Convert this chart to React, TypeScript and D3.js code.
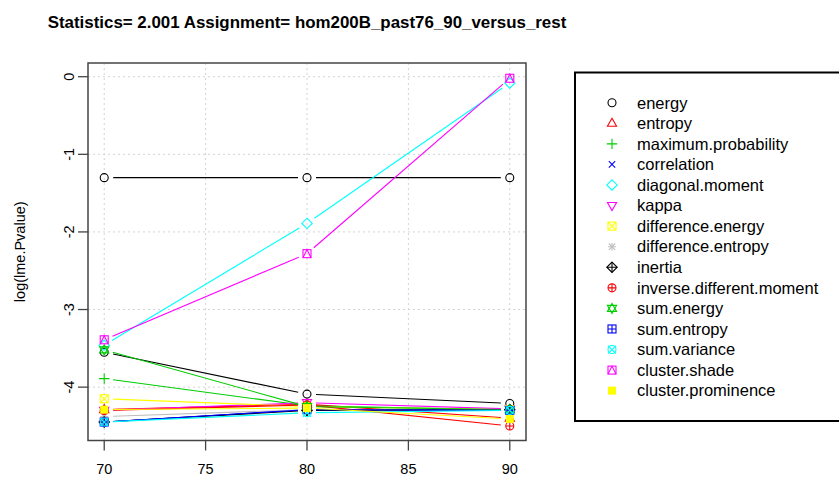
import React from "react";
import * as d3 from "d3";

const xValues = [70, 80, 90];
const xTicks = [70, 75, 80, 85, 90];
const yTicks = [0, -1, -2, -3, -4];

const seriesNames = [
  "energy",
  "entropy",
  "maximum.probability",
  "correlation",
  "diagonal.moment",
  "kappa",
  "difference.energy",
  "difference.entropy",
  "inertia",
  "inverse.different.moment",
  "sum.energy",
  "sum.entropy",
  "sum.variance",
  "cluster.shade",
  "cluster.prominence",
];

const energy = [-3.55, -4.09, -4.21];
const entropy = [-4.29, -4.22, -4.4];
const maximumProbability = [-3.89, -4.24, -4.29];
const correlation = [-4.45, -4.29, -4.29];
const diagonalMoment = [-3.46, -1.89, -0.08];
const kappa = [-4.3, -4.2, -4.28];
const differenceEnergy = [-4.15, -4.25, -4.29];
const differenceEntropy = [-4.38, -4.29, -4.3];
const inertia = [-4.45, -4.3, -4.29];
const inverseDifferentMoment = [-4.3, -4.23, -4.5];
const sumEnergy = [-3.52, -4.25, -4.29];
const sumEntropy = [-4.45, -4.29, -4.3];
const sumVariance = [-4.45, -4.33, -4.3];
const clusterShade = [-3.39, -2.28, -0.02];
const clusterProminence = [-4.29, -4.27, -4.41];
const threshold = [-1.301, -1.301, -1.301];

const seriesValues = [
  energy,
  entropy,
  maximumProbability,
  correlation,
  diagonalMoment,
  kappa,
  differenceEnergy,
  differenceEntropy,
  inertia,
  inverseDifferentMoment,
  sumEnergy,
  sumEntropy,
  sumVariance,
  clusterShade,
  clusterProminence,
];

const palette = ["#000000", "#FF0000", "#00CD00", "#0000FF", "#00FFFF", "#FF00FF", "#FFFF00", "#BEBEBE"];

const W = 839;
const H = 477;
const left = 88;
const right = 526;
const top = 63;
const bottom = 440.5;

const x = d3.scaleLinear().domain([69.2, 90.8]).range([left, right]);
const y = d3.scaleLinear().domain([-4.6876, 0.1766]).range([bottom, top]);

function Symbol({ pch, cx, cy, color }: { pch: number; cx: number; cy: number; color: string }) {
  const s = 4;
  const sw = 1.1;
  const common = { fill: "none", stroke: color, strokeWidth: sw };
  const plus = <path d={`M${cx - s},${cy}H${cx + s}M${cx},${cy - s}V${cy + s}`} {...common} />;
  const cross = <path d={`M${cx - s * 0.8},${cy - s * 0.8}L${cx + s * 0.8},${cy + s * 0.8}M${cx - s * 0.8},${cy + s * 0.8}L${cx + s * 0.8},${cy - s * 0.8}`} {...common} />;
  const crossSq = <path d={`M${cx - s},${cy - s}L${cx + s},${cy + s}M${cx - s},${cy + s}L${cx + s},${cy - s}`} {...common} />;
  const square = <rect x={cx - s} y={cy - s} width={2 * s} height={2 * s} {...common} />;
  const circle = <circle cx={cx} cy={cy} r={s} {...common} />;
  const triUp = <path d={`M${cx},${cy - s * 1.25}L${cx + s * 1.15},${cy + s * 0.75}L${cx - s * 1.15},${cy + s * 0.75}Z`} {...common} />;
  const triDown = <path d={`M${cx},${cy + s * 1.25}L${cx + s * 1.15},${cy - s * 0.75}L${cx - s * 1.15},${cy - s * 0.75}Z`} {...common} />;
  const diamond = <path d={`M${cx},${cy - s * 1.3}L${cx + s * 1.3},${cy}L${cx},${cy + s * 1.3}L${cx - s * 1.3},${cy}Z`} {...common} />;
  switch (pch) {
    case 1:
      return circle;
    case 2:
      return triUp;
    case 3:
      return <path d={`M${cx - s * 1.3},${cy}H${cx + s * 1.3}M${cx},${cy - s * 1.3}V${cy + s * 1.3}`} {...common} />;
    case 4:
      return cross;
    case 5:
      return diamond;
    case 6:
      return triDown;
    case 7:
      return <g>{square}{crossSq}</g>;
    case 8:
      return <g>{plus}{cross}</g>;
    case 9:
      return <g>{diamond}<path d={`M${cx - s * 1.3},${cy}H${cx + s * 1.3}M${cx},${cy - s * 1.3}V${cy + s * 1.3}`} {...common} /></g>;
    case 10:
      return <g>{circle}{plus}</g>;
    case 11:
      return <g>{triUp}{triDown}</g>;
    case 12:
      return <g>{square}{plus}</g>;
    case 13:
      return <g>{circle}{crossSq}</g>;
    case 14:
      return <g>{square}<path d={`M${cx - s},${cy + s}L${cx},${cy - s}L${cx + s},${cy + s}`} {...common} /></g>;
    case 15:
      return <rect x={cx - s} y={cy - s} width={2 * s} height={2 * s} fill={color} />;
    default:
      return null;
  }
}

function Series({ values, color, pch }: { values: number[]; color: string; pch: number }) {
  const gap = 9;
  const segs: JSX.Element[] = [];
  for (let i = 0; i < values.length - 1; i++) {
    const x0 = x(xValues[i]);
    const y0 = y(values[i]);
    const x1 = x(xValues[i + 1]);
    const y1 = y(values[i + 1]);
    const len = Math.hypot(x1 - x0, y1 - y0);
    if (len <= 2 * gap) continue;
    const ux = (x1 - x0) / len;
    const uy = (y1 - y0) / len;
    segs.push(
      <line key={i} x1={x0 + ux * gap} y1={y0 + uy * gap} x2={x1 - ux * gap} y2={y1 - uy * gap} stroke={color} strokeWidth={1.1} />
    );
  }
  return (
    <g>
      {segs}
      {values.map((v, i) => (
        <Symbol key={"p" + i} pch={pch} cx={x(xValues[i])} cy={y(v)} color={color} />
      ))}
    </g>
  );
}

export default function App() {
  const font = "'Liberation Sans', Arial, sans-serif";
  const legX = 575;
  const legTop = 72.5;
  const legBottom = 421;
  const rowY0 = 102.7;
  const rowStep = 20.57;
  return (
    <svg width={W} height={H} style={{ position: "absolute", left: 0, top: 0, background: "#fff" }} fontFamily={font}>
      <rect x={0} y={0} width={W} height={H} fill="#fff" />
      <text x={(left + right) / 2} y={28} textAnchor="middle" fontSize={16.9} fontWeight="bold" fill="#000">
        Statistics= 2.001 Assignment= hom200B_past76_90_versus_rest
      </text>
      {/* grid */}
      <g stroke="#d3d3d3" strokeWidth={1} strokeDasharray="2,3">
        {xTicks.map((t) => (
          <line key={"gx" + t} x1={x(t)} x2={x(t)} y1={top} y2={bottom} />
        ))}
        {yTicks.map((t) => (
          <line key={"gy" + t} x1={left} x2={right} y1={y(t)} y2={y(t)} />
        ))}
      </g>
      {/* threshold */}
      <Series values={threshold} color="#000000" pch={1} />
      {seriesValues.map((vals, i) => (
        <Series key={seriesNames[i]} values={vals} color={palette[i % 8]} pch={i + 1} />
      ))}
      {/* box */}
      <rect x={left} y={top} width={right - left} height={bottom - top} fill="none" stroke="#444" strokeWidth={1.5} />
      {/* y axis */}
      {yTicks.map((t) => (
        <g key={"yt" + t}>
          <line x1={left - 10} x2={left} y1={y(t)} y2={y(t)} stroke="#444" strokeWidth={1.3} />
          <text
            transform={`translate(${left - 14},${y(t)}) rotate(-90)`}
            textAnchor="middle"
            fontSize={14.5}
            fill="#000"
          >
            {t}
          </text>
        </g>
      ))}
      {/* x axis */}
      {xTicks.map((t) => (
        <g key={"xt" + t}>
          <line x1={x(t)} x2={x(t)} y1={bottom} y2={bottom + 10} stroke="#444" strokeWidth={1.3} />
          <text x={x(t)} y={bottom + 33} textAnchor="middle" fontSize={14.5} fill="#000">
            {t}
          </text>
        </g>
      ))}
      <text transform={`translate(25,${(top + bottom) / 2}) rotate(-90)`} textAnchor="middle" fontSize={14.5} fill="#000">
        log(lme.Pvalue)
      </text>
      {/* legend */}
      <path d={`M${W + 5},${legTop}H${legX}V${legBottom}H${W + 5}`} fill="none" stroke="#000" strokeWidth={2} />
      {seriesNames.map((name, i) => {
        const cy = rowY0 + i * rowStep;
        return (
          <g key={"leg" + name}>
            <Symbol pch={i + 1} cx={612} cy={cy} color={palette[i % 8]} />
            <text x={637} y={cy + 5.8} fontSize={16.5} fill="#000">
              {name}
            </text>
          </g>
        );
      })}
    </svg>
  );
}
